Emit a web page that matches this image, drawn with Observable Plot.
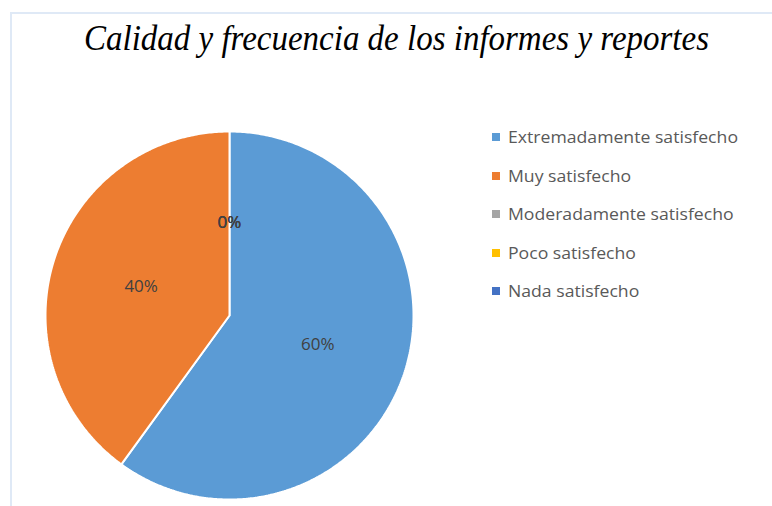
<!DOCTYPE html>
<html>
<head>
<meta charset="utf-8">
<script src="https://cdn.jsdelivr.net/npm/d3@7"></script>
<script src="https://cdn.jsdelivr.net/npm/@observablehq/plot@0.6"></script>
<style>
  html, body { margin: 0; padding: 0; background: #fff; }
  #wrap { position: relative; width: 772px; height: 506px; overflow: hidden; background: #fff; }
  #frame { position: absolute; left: 10px; top: 12px; right: -5px; bottom: -5px;
           border-top: 2px solid #dfe9f6; border-left: 2px solid #dfe9f6; }
  #title { position: absolute; left: 84px; top: 21px; white-space: nowrap;
           font-family: "Liberation Serif", "Times New Roman", serif; font-style: italic;
           font-size: 35px; line-height: 35px; color: #000; transform-origin: 0 0; }
  #chart { position: absolute; left: 0; top: 120px; }
  #legend { position: absolute; left: 492px; top: 0; }
  .row { position: absolute; left: 0; height: 20px; white-space: nowrap; }
  .sw { position: absolute; left: 0; top: 6px; width: 8px; height: 8px; }
  .lab { position: absolute; left: 16px; top: 0; line-height: 20px;
         font-family: "Open Sans", sans-serif; font-size: 17px; color: #595959;
         transform-origin: 0 50%; }
</style>
</head>
<body>
<div id="wrap">
  <div id="frame"></div>
  <div id="title"></div>
  <div id="chart"></div>
  <div id="legend"></div>
</div>
<script>
const titleText = "Calidad y frecuencia de los informes y reportes";
const categories = ["Extremadamente satisfecho", "Muy satisfecho", "Moderadamente satisfecho", "Poco satisfecho", "Nada satisfecho"];
const values = [60, 40, 0, 0, 0];
const percentLabels = ["60%", "40%", "0%", "0%", "0%"];
const colors = ["#5B9BD5", "#ED7D31", "#A5A5A5", "#FFC000", "#4472C4"];

// title
const t = document.getElementById("title");
t.textContent = titleText;
const tw = t.getBoundingClientRect().width;
t.style.transform = `scaleX(${625 / tw})`;

// pie geometry from the data
const arcs = d3.pie().sort(null).value(d => d)(values);
const slices = arcs.map((a, i) => ({cat: categories[i], label: percentLabels[i], start: a.startAngle, end: a.endAngle, value: a.value}));

const outline = [];
for (const s of slices) {
  if (s.end - s.start <= 0) continue;
  outline.push({cat: s.cat, x: 0, y: 0});
  const n = Math.max(2, Math.ceil((s.end - s.start) / 0.01));
  for (let k = 0; k <= n; k++) {
    const a = s.start + (s.end - s.start) * k / n;
    outline.push({cat: s.cat, x: Math.sin(a), y: Math.cos(a)});
  }
  outline.push({cat: s.cat, x: 0, y: 0});
}
const labelR = 0.505;
const labelData = slices.map(s => {
  const m = (s.start + s.end) / 2;
  return {cat: s.cat, label: s.label, x: labelR * Math.sin(m), y: labelR * Math.cos(m)};
});

const plot = Plot.plot({
  width: 460,
  height: 386,
  marginLeft: 45,
  marginRight: 47,
  marginTop: 11,
  marginBottom: 7,
  x: {domain: [-1, 1], axis: null},
  y: {domain: [-1, 1], axis: null},
  color: {domain: categories, range: colors},
  style: {background: "transparent", overflow: "visible"},
  marks: [
    Plot.line(outline, {x: "x", y: "y", z: "cat", fill: "cat", stroke: "white", strokeWidth: 2, strokeLinejoin: "miter"}),
    Plot.text(labelData, {x: "x", y: "y", text: "label", fill: "#404040", fontSize: 17, fontFamily: "Open Sans, sans-serif"})
  ]
});
document.getElementById("chart").appendChild(plot);

// legend
const legend = document.getElementById("legend");
const rowCenters = [137, 175.5, 214, 252.5, 291];
const labs = [];
categories.forEach((c, i) => {
  const row = document.createElement("div");
  row.className = "row";
  row.style.top = (rowCenters[i] - 10) + "px";
  const sw = document.createElement("div");
  sw.className = "sw";
  sw.style.background = colors[i];
  const lab = document.createElement("div");
  lab.className = "lab";
  lab.textContent = c;
  row.appendChild(sw); row.appendChild(lab);
  legend.appendChild(row);
  labs.push(lab);
});
const lw = labs[0].getBoundingClientRect().width;
const sx = 230 / lw;
labs.forEach(l => l.style.transform = `scaleX(${sx})`);
</script>
</body>
</html>
